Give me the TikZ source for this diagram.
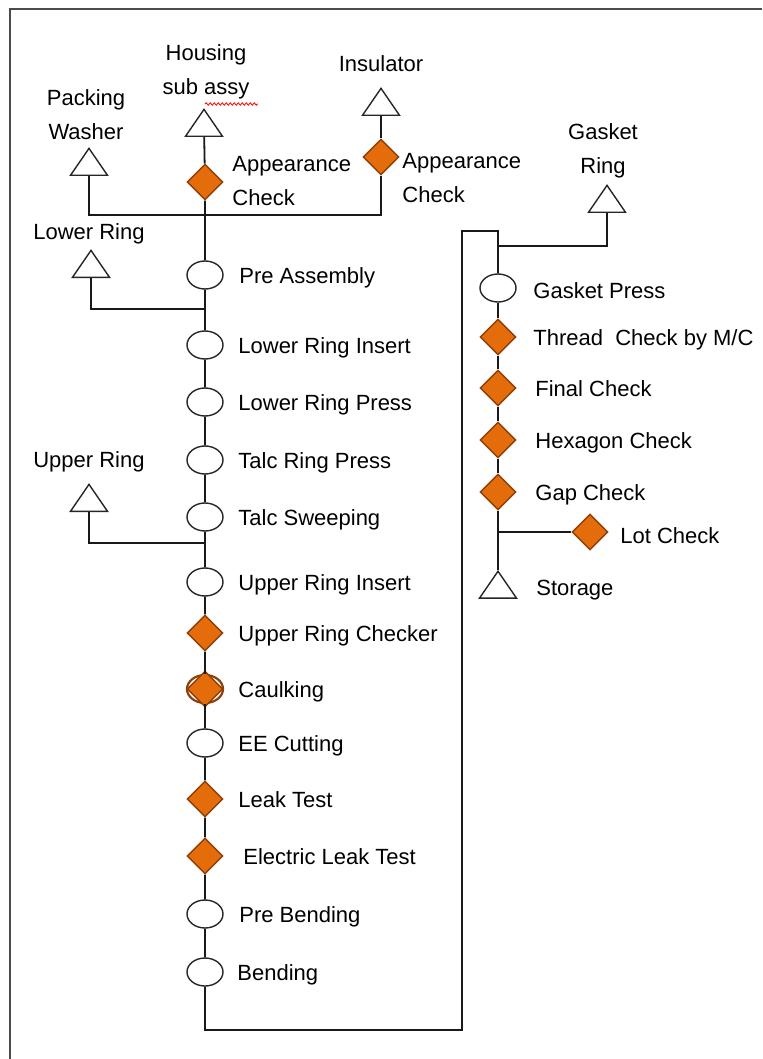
\documentclass[tikz,border=0pt]{standalone}
\usepackage{fontspec}
\setmainfont{Liberation Sans}
\usetikzlibrary{shapes.geometric,decorations.pathmorphing}
\definecolor{insporange}{RGB}{228,108,10}
\definecolor{inspbrown}{RGB}{140,64,10}

\begin{document}
\begin{tikzpicture}[x=0.5pt,y=-0.5pt,
  op/.style={ellipse,draw=black!85,fill=white,line width=0.7pt,minimum width=18pt,minimum height=14pt,inner sep=0pt},
  insp/.style={diamond,draw=inspbrown,fill=insporange,line width=0.7pt,minimum size=18pt,inner sep=0pt},
  stock/.style={isosceles triangle,isosceles triangle apex angle=69,shape border rotate=90,draw=black!85,fill=white,line width=0.7pt,inner sep=0pt,minimum width=18.5pt,anchor=lower side},
  lbl/.style={anchor=west,inner sep=0pt,text height=8pt,text depth=0pt,font=\fontsize{11}{17}\selectfont},
  title/.style={align=center,inner sep=0pt,font=\fontsize{11}{17}\selectfont},
  flow/.style={line width=0.9pt,black!90}]
\useasboundingbox (0,0) rectangle (762,1059);
% frame
\draw[line width=1.4pt,black!70] (10,1059) -- (10,9) -- (762,9);

% incoming parts
\node[stock] (housing) at (204,137) {};
\node[stock] (washer) at (89,176) {};
\node[stock] (insul) at (381,116) {};
\node[stock] (lower) at (91,278) {};
\node[stock] (upper) at (89,512) {};
\node[stock] (gasket) at (607,213) {};
\node[title] (thousing) at (206,72) {Housing\\sub assy};
\node[title] (twasher) at (86,115) {Packing\\Washer};
\node[title] (tinsul) at (381,64) {Insulator};
\node[title] (tlower) at (89,234) {Lower Ring};
\node[title] (tupper) at (89,462) {Upper Ring};
\node[title] (tgasket) at (603,151) {Gasket\\Ring};
\draw[red,line width=0.4pt,decorate,decoration={snake,amplitude=0.6pt,segment length=2pt}] (205,104) -- (258,104);

% junctions and corners
\coordinate (j1) at (205,215);
\coordinate (j2) at (205,309);
\coordinate (j3) at (205,543);
\coordinate (j4) at (498,246);
\coordinate (j5) at (498,532);
\coordinate (c1) at (462,1030);
\coordinate (c2) at (462,231);

% main line
\node[insp] (hac) at (205,182) {};
\node[insp] (iac) at (381,157) {};
\node[op] (pre) at (205,275) {};
\node[op] (lri) at (205,345) {};
\node[op] (lrp) at (205,402) {};
\node[op] (trp) at (205,460) {};
\node[op] (ts) at (205,517) {};
\node[op] (uri) at (205,582) {};
\node[insp] (urc) at (205,633) {};
\node[op,draw=inspbrown,line width=1.1pt] (caulk) at (205,689) {};
\node[insp] (caulkd) at (205,689) {};
\node[op] (ee) at (205,743) {};
\node[insp] (leak) at (205,799) {};
\node[insp] (elt) at (205,856) {};
\node[op] (pbend) at (205,914) {};
\node[op] (bend) at (205,972) {};

% second line
\node[op] (gp) at (498,288) {};
\node[insp] (thread) at (498,337) {};
\node[insp] (final) at (498,388) {};
\node[insp] (hex) at (498,440) {};
\node[insp] (gap) at (498,492) {};
\node[insp] (lot) at (590,532) {};
\node[stock,anchor=apex] (storage) at (498,570) {};

% step labels
\node[title,anchor=west,align=left] (thac) at (232,181) {Appearance\\Check};
\node[title,anchor=west,align=left] (tiac) at (402,178) {Appearance\\Check};
\node[lbl] (tpre) at (239,275) {Pre Assembly};
\node[lbl] (tlri) at (238,345) {Lower Ring Insert};
\node[lbl] (tlrp) at (238,402) {Lower Ring Press};
\node[lbl] (ttrp) at (238,460) {Talc Ring Press};
\node[lbl] (tts) at (238,517) {Talc Sweeping};
\node[lbl] (turi) at (238,582) {Upper Ring Insert};
\node[lbl] (turc) at (238,633) {Upper Ring Checker};
\node[lbl] (tcaulk) at (238,689) {Caulking};
\node[lbl] (tee) at (238,743) {EE Cutting};
\node[lbl] (tleak) at (238,799) {Leak Test};
\node[lbl] (telt) at (243,856) {Electric Leak Test};
\node[lbl] (tpbend) at (239,914) {Pre Bending};
\node[lbl] (tbend) at (237,972) {Bending};
\node[lbl] (tgp) at (533,290) {Gasket Press};
\node[lbl] (tthread) at (533,337) {Thread\ \ Check by M/C};
\node[lbl] (tfinal) at (535,388) {Final Check};
\node[lbl] (thex) at (535,440) {Hexagon Check};
\node[lbl] (tgap) at (535,492) {Gap Check};
\node[lbl] (tlot) at (620,535) {Lot Check};
\node[lbl] (tstorage) at (536,587) {Storage};

% connectors
\draw[flow] (housing) -- (hac) -- (j1) -- (pre) -- (j2) -- (lri) -- (lrp) -- (trp) -- (ts) -- (j3) -- (uri) -- (urc) -- (caulk) -- (ee) -- (leak) -- (elt) -- (pbend) -- (bend) |- (c1) -- (c2) -| (gp);
\draw[flow] (gp) -- (thread) -- (final) -- (hex) -- (gap) -- (j5) -- (storage);
\draw[flow] (washer) |- (j1);
\draw[flow] (insul) -- (iac) |- (j1);
\draw[flow] (lower) |- (j2);
\draw[flow] (upper) |- (j3);
\draw[flow] (gasket) |- (j4);
\draw[flow] (j5) -- (lot);
\end{tikzpicture}
\end{document}
